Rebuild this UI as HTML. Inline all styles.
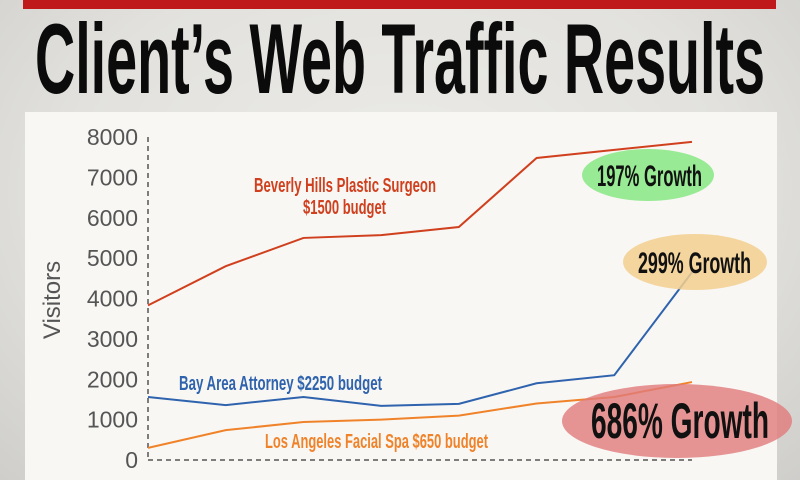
<!DOCTYPE html>
<html><head><meta charset="utf-8">
<style>
html,body{margin:0;padding:0;}
body{width:800px;height:480px;overflow:hidden;background:radial-gradient(ellipse at 50% 40%,#ecebe7 0%,#e2e1dd 60%,#cfcecb 100%);font-family:"Liberation Sans",sans-serif;}
svg{display:block;}
</style></head>
<body>
<svg id="chart" width="800" height="480">
  <rect x="23" y="0" width="753" height="9" fill="#c0191c"/>
  <text x="35" y="93" font-size="99" font-weight="bold" fill="#0b0b0b" textLength="730" lengthAdjust="spacingAndGlyphs" font-family="'Liberation Sans Narrow','Liberation Sans',sans-serif">Client’s Web Traffic Results</text>
  <rect x="25" y="112" width="752" height="368" fill="#f8f7f4"/>
  <text transform="translate(60,300) rotate(-90)" text-anchor="middle" font-size="24" fill="#555">Visitors</text>
  <g id="axes"></g>
  <g id="series"></g>
  <g id="labels"></g>
</svg>
<script>
const xCats=[1,2,3,4,5,6,7,8];
const yTicks=[0,1000,2000,3000,4000,5000,6000,7000,8000];
const beverlyHills=[3830,4800,5500,5570,5770,7480,7680,7880];
const bayArea=[1560,1360,1560,1340,1390,1900,2100,4650];
const losAngeles=[300,740,940,1000,1100,1400,1560,1930];

const NS='http://www.w3.org/2000/svg';
const X=v=>148+(v-1)*(692-148)/7;
const Y=v=>460-v*(460-137)/8000;
function mk(tag,attrs,parent){const e=document.createElementNS(NS,tag);for(const k in attrs)e.setAttribute(k,attrs[k]);parent.appendChild(e);return e;}
const axes=document.getElementById('axes');
const yl=mk('line',{x1:X(1),x2:X(1),y1:Y(8000),y2:Y(0),stroke:'#555','stroke-width':1.5,'stroke-dasharray':'5,4'},axes);


const xl=mk('line',{x1:X(1),x2:X(8),y1:Y(0),y2:Y(0),stroke:'#555','stroke-width':1.5,'stroke-dasharray':'5,4'},axes);


yTicks.forEach(t=>{
  const tx=mk('text',{x:138,y:Y(t)+8,'text-anchor':'end','font-size':23,fill:'#555'},axes);
  tx.textContent=t;
  
  
});
xCats.forEach(c=>{
  const tx=mk('text',{x:X(c),y:496,'text-anchor':'middle','font-size':23,fill:'#555'},axes);
  tx.textContent=c;
  
  
});
const ser=document.getElementById('series');
function line(vals,color,name){
  const p=mk('polyline',{points:vals.map((v,i)=>X(xCats[i])+','+Y(v)).join(' '),fill:'none',stroke:color,'stroke-width':2},ser);
  
  
}
line(beverlyHills,'#d0401e','series-beverly-hills');
line(bayArea,'#2f63ad','series-bay-area');
line(losAngeles,'#f0832a','series-los-angeles');
</script>
<svg width="800" height="480" style="position:absolute;left:0;top:0">
  <g font-family="'Liberation Sans Narrow','Liberation Sans',sans-serif" font-weight="bold">
    <text x="254" y="192" font-size="20" fill="#d0401e" textLength="182" lengthAdjust="spacingAndGlyphs">Beverly Hills Plastic Surgeon</text>
    <text x="303" y="214" font-size="20" fill="#d0401e" textLength="83" lengthAdjust="spacingAndGlyphs">$1500 budget</text>
    <text x="179" y="390" font-size="20" fill="#2f63ad" textLength="203" lengthAdjust="spacingAndGlyphs">Bay Area Attorney $2250 budget</text>
    <text x="265" y="448" font-size="20" fill="#f0832a" textLength="223" lengthAdjust="spacingAndGlyphs">Los Angeles Facial Spa $650 budget</text>
    <ellipse cx="648" cy="175" rx="66" ry="26" fill="#8ee88a" opacity="0.9"/>
    <text x="597" y="186" font-size="30" fill="#111" textLength="105" lengthAdjust="spacingAndGlyphs">197% Growth</text>
    <ellipse cx="695" cy="262" rx="72" ry="28" fill="#f3cf8e" opacity="0.85"/>
    <text x="638" y="273" font-size="30" fill="#111" textLength="113" lengthAdjust="spacingAndGlyphs">299% Growth</text>
    <ellipse cx="677" cy="421" rx="115" ry="37" fill="#e07a7a" opacity="0.8"/>
    <text x="591" y="438" font-size="50" fill="#111" textLength="178" lengthAdjust="spacingAndGlyphs">686% Growth</text>
  </g>
</svg>
</body></html>
